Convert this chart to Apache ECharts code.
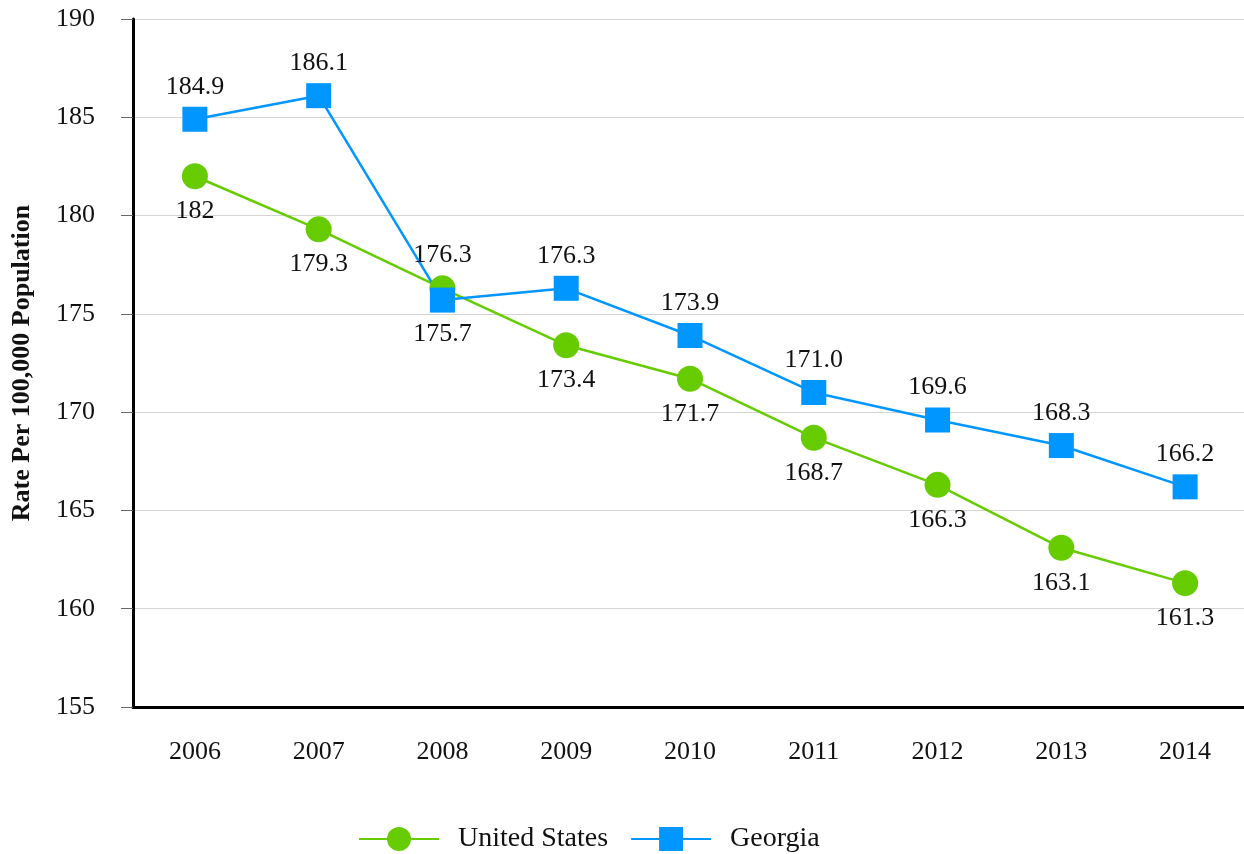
<!DOCTYPE html>
<html><head><meta charset="utf-8">
<script src="https://cdn.jsdelivr.net/npm/echarts@6/dist/echarts.min.js"></script>
<style>html,body{margin:0;padding:0;background:#fff}#c{width:1244px;height:854px}</style>
</head><body><div id="c"></div>
<script>
const years = ['2006','2007','2008','2009','2010','2011','2012','2013','2014'];
const usValues = [182, 179.3, 176.3, 173.4, 171.7, 168.7, 166.3, 163.1, 161.3];
const usLabels = ['182','179.3','176.3','173.4','171.7','168.7','166.3','163.1','161.3'];
const gaValues = [184.9, 186.1, 175.7, 176.3, 173.9, 171.0, 169.6, 168.3, 166.2];
const gaLabels = ['184.9','186.1','175.7','176.3','173.9','171.0','169.6','168.3','166.2'];
const usLabelPos = ['bottom','bottom','top','bottom','bottom','bottom','bottom','bottom','bottom'];
const gaLabelPos = ['top','top','bottom','top','top','top','top','top','top'];

const font = '"Liberation Serif", "Times New Roman", serif';
const chart = echarts.init(document.getElementById('c'));
function mk(vals, labs, pos){
  return vals.map((v,i)=>({value:v, label:{position:pos[i], formatter:labs[i], distance: pos[i]==='bottom'?9:7}}));
}
chart.setOption({
  animation:false,
  textStyle:{fontFamily:font},
  grid:{left:133, right:-3, top:19, bottom:147, containLabel:false, outerBoundsMode:'none'},
  legend:{
    top:820, left:353, itemWidth:80, itemHeight:30, itemGap:22,
    textStyle:{fontFamily:font, fontSize:28, color:'#111', padding:[0,0,0,14]},
    data:['United States','Georgia']
  },
  xAxis:{
    type:'category', data:years, boundaryGap:true,
    axisLine:{lineStyle:{color:'#000', width:3}},
    axisTick:{alignWithLabel:true, length:12, lineStyle:{color:'#333', width:1}},
    axisLabel:{fontFamily:font, fontSize:26, color:'#111', margin:32},
    splitLine:{show:false}
  },
  yAxis:{
    type:'value', min:155, max:190, interval:5,
    name:'Rate Per 100,000 Population', nameLocation:'middle', nameGap:98,
    nameTextStyle:{fontFamily:font, fontSize:26, fontWeight:'bold', color:'#111'},
    axisLine:{show:true, lineStyle:{color:'#000', width:3}},
    axisTick:{show:true, length:12, lineStyle:{color:'#666', width:1}},
    axisLabel:{fontFamily:font, fontSize:26, color:'#111', margin:38},
    splitLine:{show:true, lineStyle:{color:'#d4d4d4', width:1}}
  },
  series:[
    {name:'United States', type:'line', data:mk(usValues, usLabels, usLabelPos),
     symbol:'circle', symbolSize:26, itemStyle:{color:'#66cc00'},
     lineStyle:{color:'#66cc00', width:2.5},
     label:{show:true, fontFamily:font, fontSize:26, color:'#111'}},
    {name:'Georgia', type:'line', data:mk(gaValues, gaLabels, gaLabelPos),
     symbol:'rect', symbolSize:25, itemStyle:{color:'#0096ff'},
     lineStyle:{color:'#0096ff', width:2.5},
     label:{show:true, fontFamily:font, fontSize:26, color:'#111'}}
  ]
});
</script></body></html>
